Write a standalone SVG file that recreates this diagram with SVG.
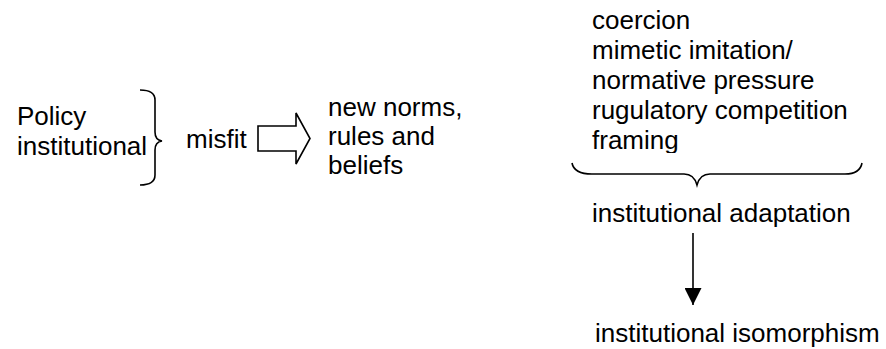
<svg xmlns="http://www.w3.org/2000/svg" width="886" height="349" viewBox="0 0 886 349">
  <style>
    text { font-family: "Liberation Sans", Arial, sans-serif; font-size: 26px; fill: #000; }
    .stroke { fill: none; stroke: #000; stroke-width: 1.6; }
  </style>
  <defs>
    <clipPath id="listClip">
      <rect x="580" y="0" width="306" height="153"/>
    </clipPath>
    <marker id="arrowHead" viewBox="0 0 10 10" refX="10" refY="5" markerWidth="17" markerHeight="17" markerUnits="userSpaceOnUse" orient="auto">
      <path d="M0,0 L10,5 L0,10 Z" fill="#000"/>
    </marker>
  </defs>

  <!-- left: sources of misfit -->
  <g id="sources">
    <text x="17" y="125">Policy</text>
    <text x="17" y="155">institutional</text>
  </g>
  <g id="leftBrace">
    <path class="stroke" d="M140,90 Q155,90 155,100 L155,132 Q155,140 162,141 Q155,142 155,150 L155,175 Q155,185 140,185"/>
  </g>
  <g id="misfit">
    <text x="186" y="148">misfit</text>
  </g>
  <g id="outcome">
    <text x="328" y="116">new norms,</text>
    <text x="328" y="145">rules and</text>
    <text x="328" y="174">beliefs</text>
  </g>

  <!-- right: mechanisms and result -->
  <g id="mechanisms" clip-path="url(#listClip)">
    <text x="592" y="29">coercion</text>
    <text x="592" y="59">mimetic imitation/</text>
    <text x="592" y="89">normative pressure</text>
    <text x="592" y="119">rugulatory competition</text>
    <text x="592" y="149">framing</text>
  </g>
  <g id="bottomBrace">
    <path class="stroke" d="M572,163 Q574,174 592,174 L684,174 Q694,174 697,185 Q700,174 710,174 L845,174 Q860,174 862,163"/>
  </g>
  <g id="adaptation">
    <text x="592" y="222">institutional adaptation</text>
  </g>
  <g id="isomorphism">
    <text x="595" y="342">institutional isomorphism</text>
  </g>

  <g id="connectors">
    <path class="stroke" d="M258,126 L296,126 L296,113 L310,138.5 L296,164 L296,151 L258,151 Z"/>
    <line class="stroke" x1="693" y1="233" x2="693" y2="305" marker-end="url(#arrowHead)"/>
  </g>
</svg>
